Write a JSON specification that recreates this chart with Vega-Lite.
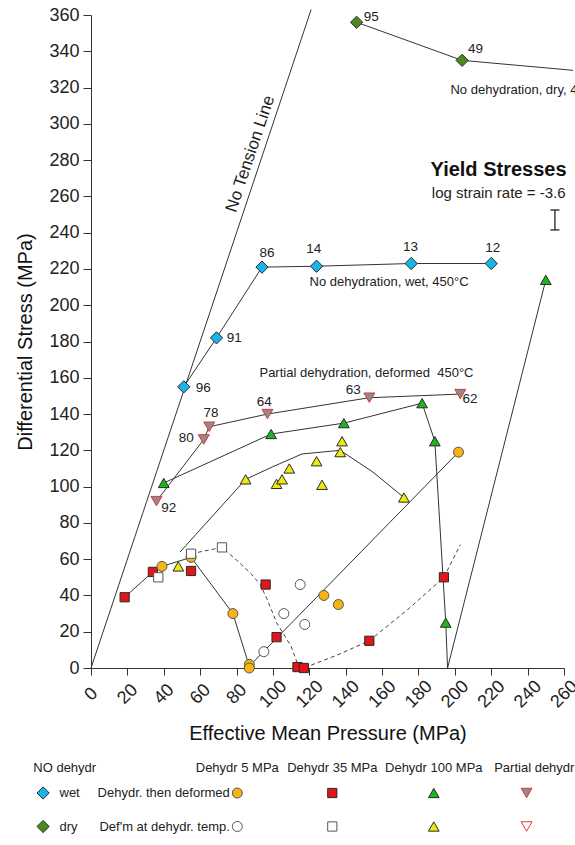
{
  "$schema": "https://vega.github.io/schema/vega-lite/v6.json",
  "background": "white",
  "padding": {"left": 15, "top": 6, "right": 0, "bottom": 5},
  "bounds": "flush",
  "spacing": 87,
  "config": {
    "font": "Liberation Sans",
    "view": {"stroke": null},
    "axis": {"grid": false, "domainColor": "#333", "tickColor": "#333", "labelColor": "#222", "titleColor": "#111", "titleFontWeight": "normal", "labelFontSize": 18, "titleFontSize": 20, "labelOverlap": false, "labelFlush": false}
  },
  "datasets": {
    "pts": [
      {"s": "35def", "x": 18.5, "y": 39}, {"s": "35def", "x": 34, "y": 53}, {"s": "35def", "x": 55, "y": 53.5}, {"s": "35def", "x": 96, "y": 46}, {"s": "35def", "x": 102, "y": 17}, {"s": "35def", "x": 113.5, "y": 0.5}, {"s": "35def", "x": 117, "y": 0}, {"s": "35def", "x": 153, "y": 15}, {"s": "35def", "x": 194, "y": 50},
      {"s": "5def", "x": 39, "y": 56}, {"s": "5def", "x": 55, "y": 61}, {"s": "5def", "x": 78, "y": 30}, {"s": "5def", "x": 87, "y": 2}, {"s": "5def", "x": 87, "y": 0}, {"s": "5def", "x": 128, "y": 40}, {"s": "5def", "x": 136, "y": 35}, {"s": "5def", "x": 202, "y": 119},
      {"s": "35temp", "x": 37, "y": 50}, {"s": "35temp", "x": 55, "y": 63}, {"s": "35temp", "x": 72, "y": 66.5},
      {"s": "5temp", "x": 95, "y": 9}, {"s": "5temp", "x": 106, "y": 30}, {"s": "5temp", "x": 115, "y": 46}, {"s": "5temp", "x": 117.5, "y": 24},
      {"s": "100def", "x": 40, "y": 102}, {"s": "100def", "x": 99, "y": 129}, {"s": "100def", "x": 139, "y": 135}, {"s": "100def", "x": 182, "y": 146}, {"s": "100def", "x": 189, "y": 125}, {"s": "100def", "x": 195, "y": 25}, {"s": "100def", "x": 250, "y": 214},
      {"s": "100temp", "x": 48, "y": 56}, {"s": "100temp", "x": 85, "y": 104}, {"s": "100temp", "x": 102, "y": 101.5}, {"s": "100temp", "x": 105, "y": 104}, {"s": "100temp", "x": 109, "y": 110}, {"s": "100temp", "x": 124, "y": 114}, {"s": "100temp", "x": 127, "y": 101}, {"s": "100temp", "x": 137, "y": 119}, {"s": "100temp", "x": 138, "y": 125}, {"s": "100temp", "x": 172, "y": 94},
      {"s": "pdef", "x": 36, "y": 92}, {"s": "pdef", "x": 62, "y": 126}, {"s": "pdef", "x": 65, "y": 133}, {"s": "pdef", "x": 97, "y": 140}, {"s": "pdef", "x": 153, "y": 149}, {"s": "pdef", "x": 203, "y": 151},
      {"s": "wet", "x": 51, "y": 155}, {"s": "wet", "x": 69, "y": 182}, {"s": "wet", "x": 94, "y": 221}, {"s": "wet", "x": 124, "y": 221.5}, {"s": "wet", "x": 176, "y": 223}, {"s": "wet", "x": 220, "y": 223},
      {"s": "dry", "x": 146, "y": 356}, {"s": "dry", "x": 204, "y": 335}
    ],
    "lines": [
      {"line": "tension", "x": 0, "y": 0}, {"line": "tension", "x": 121, "y": 363},
      {"line": "wet", "x": 51, "y": 155}, {"line": "wet", "x": 69, "y": 182}, {"line": "wet", "x": 94, "y": 221}, {"line": "wet", "x": 124, "y": 221.5}, {"line": "wet", "x": 176, "y": 223}, {"line": "wet", "x": 220, "y": 223},
      {"line": "dry", "x": 146, "y": 356}, {"line": "dry", "x": 204, "y": 335}, {"line": "dry", "x": 265, "y": 329.5},
      {"line": "partial", "x": 36, "y": 92}, {"line": "partial", "x": 62, "y": 126}, {"line": "partial", "x": 65, "y": 133}, {"line": "partial", "x": 97, "y": 140}, {"line": "partial", "x": 153, "y": 149}, {"line": "partial", "x": 203, "y": 151},
      {"line": "green", "x": 40, "y": 102}, {"line": "green", "x": 99, "y": 129}, {"line": "green", "x": 139, "y": 135}, {"line": "green", "x": 182, "y": 146}, {"line": "green", "x": 189, "y": 125}, {"line": "green", "x": 195, "y": 25}, {"line": "green", "x": 196, "y": 0}, {"line": "green", "x": 250, "y": 214},
      {"line": "solid", "x": 18.5, "y": 39}, {"line": "solid", "x": 34, "y": 53}, {"line": "solid", "x": 39, "y": 56}, {"line": "solid", "x": 55, "y": 61}, {"line": "solid", "x": 78, "y": 30}, {"line": "solid", "x": 87, "y": 1}, {"line": "solid", "x": 202, "y": 119},
      {"line": "yellow", "x": 49, "y": 64}, {"line": "yellow", "x": 85, "y": 104}, {"line": "yellow", "x": 100, "y": 111}, {"line": "yellow", "x": 116, "y": 118}, {"line": "yellow", "x": 137, "y": 120}, {"line": "yellow", "x": 155, "y": 108}, {"line": "yellow", "x": 172, "y": 94}
    ],
    "dashed": [
      {"x": 55, "y": 63}, {"x": 72, "y": 66.5}, {"x": 80, "y": 59.5}, {"x": 88, "y": 52}, {"x": 93, "y": 46}, {"x": 97, "y": 37.5}, {"x": 102, "y": 25}, {"x": 110, "y": 12}, {"x": 114, "y": 1}, {"x": 117, "y": 0}, {"x": 135, "y": 7}, {"x": 153, "y": 15}, {"x": 175, "y": 33}, {"x": 194, "y": 50}, {"x": 203, "y": 68}
    ],
    "errbar": [
      {"x": 255, "x2": 255, "y": 241.5, "y2": 252.5},
      {"x": 252.5, "x2": 257.5, "y": 241.5, "y2": 241.5},
      {"x": 252.5, "x2": 257.5, "y": 252.5, "y2": 252.5}
    ],
    "nums": [
      {"t": "95", "x": 154, "y": 358.7}, {"t": "49", "x": 211.4, "y": 341.1},
      {"t": "86", "x": 96.8, "y": 228.6}, {"t": "14", "x": 122.4, "y": 230.8}, {"t": "13", "x": 175.6, "y": 231.9}, {"t": "12", "x": 220.9, "y": 231.4},
      {"t": "91", "x": 78.7, "y": 181.7}, {"t": "96", "x": 61.7, "y": 154.2},
      {"t": "64", "x": 95.3, "y": 146.8}, {"t": "78", "x": 66, "y": 140.4}, {"t": "80", "x": 52.4, "y": 126.6}, {"t": "92", "x": 42.7, "y": 88.4}, {"t": "63", "x": 144.1, "y": 153.3}, {"t": "62", "x": 208.3, "y": 148.3}
    ],
    "regions": [
      {"t": "No dehydration, wet, 450°C", "x": 120.1, "y": 212.8},
      {"t": "Partial dehydration, deformed \u00a0450°C", "x": 92.6, "y": 162.4}
    ]
  },
  "vconcat": [
    {
      "width": 473,
      "height": 653,
      "encoding": {
        "x": {"field": "x", "type": "quantitative", "scale": {"domain": [0, 260], "nice": false, "zero": false},
          "axis": {"title": "Effective Mean Pressure (MPa)", "values": [0, 20, 40, 60, 80, 100, 120, 140, 160, 180, 200, 220, 240, 260], "tickSize": 7, "labelAngle": -45, "labelAlign": "center", "labelBaseline": "middle", "labelPadding": 19, "titlePadding": 13}},
        "y": {"field": "y", "type": "quantitative", "scale": {"domain": [0, 360], "nice": false, "zero": false},
          "axis": {"title": "Differential Stress (MPa)", "values": [0, 20, 40, 60, 80, 100, 120, 140, 160, 180, 200, 220, 240, 260, 280, 300, 320, 340, 360], "tickSize": 8, "labelPadding": 4, "titlePadding": 13}}
      },
      "layer": [
        {
          "data": {"name": "lines"},
          "mark": {"type": "line", "color": "#333", "strokeWidth": 1},
          "encoding": {"detail": {"field": "line", "type": "nominal"}}
        },
        {
          "data": {"name": "dashed"},
          "mark": {"type": "line", "color": "#444", "strokeWidth": 1, "strokeDash": [4, 3]},
          "encoding": {}
        },
        {
          "data": {"name": "errbar"},
          "mark": {"type": "rule", "color": "#222", "strokeWidth": 1.3},
          "encoding": {"x2": {"field": "x2"}, "y2": {"field": "y2"}}
        },
        {
          "data": {"name": "pts"},
          "mark": {"type": "point", "filled": true, "strokeWidth": 1, "opacity": 1},
          "encoding": {
            "shape": {"field": "s", "type": "nominal", "legend": null, "scale": {"domain": ["wet", "dry", "5def", "5temp", "35def", "35temp", "100def", "100temp", "pdef", "ptemp"], "range": ["diamond", "diamond", "circle", "circle", "square", "square", "triangle-up", "triangle-up", "triangle-down", "triangle-down"]}},
            "fill": {"field": "s", "type": "nominal", "legend": null, "scale": {"domain": ["wet", "dry", "5def", "5temp", "35def", "35temp", "100def", "100temp", "pdef", "ptemp"], "range": ["#1ab4ec", "#4d8a1e", "#f6b313", "#ffffff", "#e0161b", "#ffffff", "#1eb41e", "#efe912", "#8c8c8c", "#ffffff"]}},
            "stroke": {"field": "s", "type": "nominal", "legend": null, "scale": {"domain": ["wet", "dry", "5def", "5temp", "35def", "35temp", "100def", "100temp", "pdef", "ptemp"], "range": ["#2a2a2a", "#2a2a2a", "#555555", "#555555", "#2a2a2a", "#555555", "#2a2a2a", "#2a2a2a", "#e8323a", "#e8323a"]}},
            "size": {"field": "s", "type": "nominal", "legend": null, "scale": {"type": "ordinal", "domain": ["wet", "dry", "5def", "5temp", "35def", "35temp", "100def", "100temp", "pdef", "ptemp"], "range": [150, 150, 100, 100, 85, 85, 115, 115, 120, 120]}}
          }
        },
        {
          "data": {"name": "nums"},
          "mark": {"type": "text", "fontSize": 13.5, "align": "center", "baseline": "middle", "color": "#222"},
          "encoding": {"text": {"field": "t"}}
        },
        {
          "data": {"name": "regions"},
          "mark": {"type": "text", "fontSize": 13, "align": "left", "baseline": "middle", "color": "#222"},
          "encoding": {"text": {"field": "t"}}
        },
        {
          "data": {"values": [{"t": "No dehydration, dry, 450°C", "x": 197.6, "y": 318.6}]},
          "mark": {"type": "text", "fontSize": 13, "align": "left", "baseline": "middle", "color": "#222", "limit": 133, "ellipsis": " "},
          "encoding": {"text": {"field": "t"}}
        },
        {
          "data": {"values": [{"t": "Yield Stresses", "x": 261.4, "y": 274.5}]},
          "mark": {"type": "text", "fontSize": 20, "fontWeight": "bold", "align": "right", "baseline": "middle", "color": "#111"},
          "encoding": {"text": {"field": "t"}}
        },
        {
          "data": {"values": [{"t": "log strain rate = -3.6", "x": 260.9, "y": 261.9}]},
          "mark": {"type": "text", "fontSize": 15, "align": "right", "baseline": "middle", "color": "#222"},
          "encoding": {"text": {"field": "t"}}
        },
        {
          "data": {"values": [{"t": "No Tension Line", "x": 87.6, "y": 283.4}]},
          "mark": {"type": "text", "fontSize": 17, "angle": -71.5, "align": "center", "baseline": "middle", "color": "#222"},
          "encoding": {"text": {"field": "t"}}
        }
      ]
    },
    {
      "width": 473,
      "height": 80,
      "encoding": {
        "x": {"field": "c", "type": "quantitative", "axis": null, "scale": {"domain": [0, 1, 2, 3, 4, 5, 6, 7, 8], "range": [-57.7, -47.9, -31.5, 138.8, 146.3, 241.3, 342.8, 435.6, 443.3], "nice": false, "zero": false}},
        "y": {"field": "r", "type": "quantitative", "axis": null, "scale": {"domain": [0, 1, 2], "range": [12.7, 38, 71.5], "nice": false, "zero": false}}
      },
      "layer": [
        {
          "data": {"values": [{"t": "NO dehydr", "c": 0, "r": 0}, {"t": "wet", "c": 2, "r": 1}, {"t": "dry", "c": 2, "r": 2}]},
          "mark": {"type": "text", "fontSize": 13, "align": "left", "baseline": "middle", "color": "#222"},
          "encoding": {"text": {"field": "t"}}
        },
        {
          "data": {"values": [{"t": "Dehydr. then deformed", "c": 3, "r": 1}, {"t": "Def'm at dehydr. temp.", "c": 3, "r": 2}]},
          "mark": {"type": "text", "fontSize": 13, "align": "right", "baseline": "middle", "color": "#222"},
          "encoding": {"text": {"field": "t"}}
        },
        {
          "data": {"values": [{"t": "Dehydr 5 MPa", "c": 4, "r": 0}, {"t": "Dehydr 35 MPa", "c": 5, "r": 0}, {"t": "Dehydr 100 MPa", "c": 6, "r": 0}, {"t": "Partial dehydr", "c": 8, "r": 0}]},
          "mark": {"type": "text", "fontSize": 13, "align": "center", "baseline": "middle", "color": "#222"},
          "encoding": {"text": {"field": "t"}}
        },
        {
          "data": {"values": [{"c": 1, "r": 1, "s": "wet"}, {"c": 1, "r": 2, "s": "dry"}, {"c": 4, "r": 1, "s": "5def"}, {"c": 4, "r": 2, "s": "5temp"}, {"c": 5, "r": 1, "s": "35def"}, {"c": 5, "r": 2, "s": "35temp"}, {"c": 6, "r": 1, "s": "100def"}, {"c": 6, "r": 2, "s": "100temp"}, {"c": 7, "r": 1, "s": "pdef"}, {"c": 7, "r": 2, "s": "ptemp"}]},
          "mark": {"type": "point", "filled": true, "strokeWidth": 1, "opacity": 1},
          "encoding": {
            "shape": {"field": "s", "type": "nominal", "legend": null, "scale": {"domain": ["wet", "dry", "5def", "5temp", "35def", "35temp", "100def", "100temp", "pdef", "ptemp"], "range": ["diamond", "diamond", "circle", "circle", "square", "square", "triangle-up", "triangle-up", "triangle-down", "triangle-down"]}},
            "fill": {"field": "s", "type": "nominal", "legend": null, "scale": {"domain": ["wet", "dry", "5def", "5temp", "35def", "35temp", "100def", "100temp", "pdef", "ptemp"], "range": ["#1ab4ec", "#4d8a1e", "#f6b313", "#ffffff", "#e0161b", "#ffffff", "#1eb41e", "#efe912", "#8c8c8c", "#ffffff"]}},
            "stroke": {"field": "s", "type": "nominal", "legend": null, "scale": {"domain": ["wet", "dry", "5def", "5temp", "35def", "35temp", "100def", "100temp", "pdef", "ptemp"], "range": ["#2a2a2a", "#2a2a2a", "#555555", "#555555", "#2a2a2a", "#555555", "#2a2a2a", "#2a2a2a", "#e8323a", "#e8323a"]}},
            "size": {"field": "s", "type": "nominal", "legend": null, "scale": {"type": "ordinal", "domain": ["wet", "dry", "5def", "5temp", "35def", "35temp", "100def", "100temp", "pdef", "ptemp"], "range": [170, 170, 100, 100, 100, 100, 110, 110, 121, 121]}}
          }
        }
      ]
    }
  ]
}
